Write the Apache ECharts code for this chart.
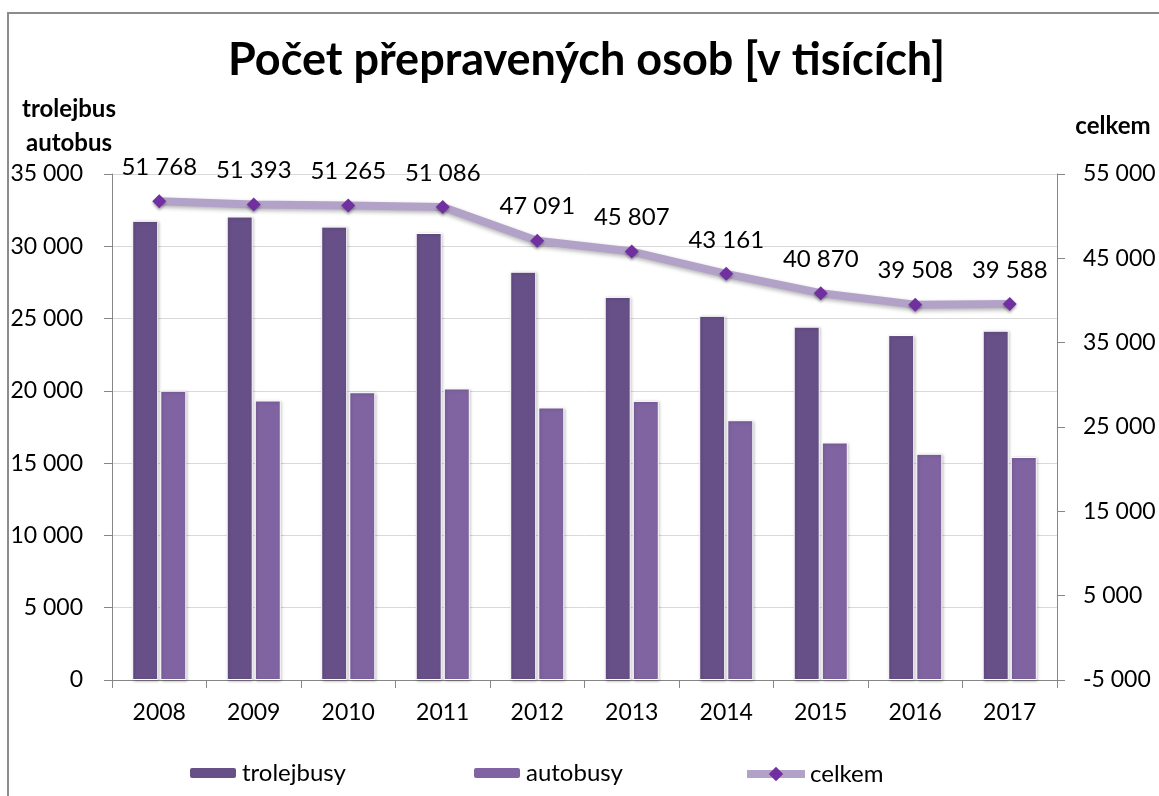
<!DOCTYPE html>
<html>
<head>
<meta charset="utf-8">
<script src="https://cdn.jsdelivr.net/npm/echarts@6/dist/echarts.min.js"></script>
<style>
html,body{margin:0;padding:0;width:1159px;height:796px;overflow:hidden;background:#fff;}
#frame{position:absolute;left:7px;top:12px;width:3000px;height:3000px;border:2px solid #8c8c8c;box-sizing:border-box;}
#chart{position:absolute;left:0;top:0;width:1159px;height:796px;}
</style>
</head>
<body>
<div id="frame"></div>
<div id="chart"></div>
<script>
const years = ['2008','2009','2010','2011','2012','2013','2014','2015','2016','2017'];
const trolejbusy = [31760, 32060, 31360, 30920, 28240, 26500, 25190, 24440, 23860, 24160];
const autobusy = [20008, 19333, 19905, 20166, 18851, 19307, 17971, 16430, 15648, 15428];
const celkem = [51768, 51393, 51265, 51086, 47091, 45807, 43161, 40870, 39508, 39588];
const rightTicks = [-5000, 5000, 15000, 25000, 35000, 45000, 55000];

const FONT = 'Lato';
function fmt(v){ return String(v).replace(/\B(?=(\d{3})+(?!\d))/g, ' '); }

const chart = echarts.init(document.getElementById('chart'), null, {renderer:'canvas'});
const legendText = {fontFamily: FONT, fontSize: 24, color: '#000'};
chart.setOption({
  animation: false,
  title: {
    text: 'Počet přepravených osob [v tisících]',
    left: 228, top: 38, padding: 0,
    textStyle: {fontFamily: FONT, fontWeight: 'bold', fontSize: 45, color: '#000'}
  },
  graphic: [
    {type:'text', x: 69, y: 109, style:{text:'trolejbus', font:'bold 24px Lato', fill:'#000', align:'center', verticalAlign:'middle'}},
    {type:'text', x: 69, y: 143, style:{text:'autobus', font:'bold 24px Lato', fill:'#000', align:'center', verticalAlign:'middle'}},
    {type:'text', x: 1113, y: 126, style:{text:'celkem', font:'bold 24px Lato', fill:'#000', align:'center', verticalAlign:'middle'}}
  ],
  legend: [
    {data:['trolejbusy'], left: 188, top: 761, padding: 0, itemWidth: 48, itemHeight: 12, textStyle: legendText},
    {data:['autobusy'], left: 472, top: 761, padding: 0, itemWidth: 48, itemHeight: 12, textStyle: legendText},
    {data:['celkem'], left: 743, top: 762, padding: 0, itemWidth: 58, itemHeight: 18, textStyle: legendText,
      lineStyle: {width: 8, color: '#b3a2c7', shadowBlur: 0}, itemStyle: {color: '#7030a0'}}
  ],
  grid: {left: 112, right: 102, top: 174, bottom: 116, containLabel: false},
  xAxis: {
    type: 'category', data: years, boundaryGap: true,
    axisLine: {lineStyle: {color: '#868686', width: 1}},
    axisTick: {show: true, length: 8, lineStyle: {color: '#868686'}},
    axisLabel: {fontFamily: FONT, fontSize: 23, color: '#000', margin: 21}
  },
  yAxis: [
    {
      type: 'value', min: 0, max: 35000, interval: 5000, position: 'left',
      axisLine: {show: true, lineStyle: {color: '#868686'}},
      axisTick: {show: true, length: 8, inside: false, lineStyle: {color: '#868686'}},
      axisLabel: {fontFamily: FONT, fontSize: 23, color: '#000', margin: 29, formatter: fmt},
      splitLine: {show: true, lineStyle: {color: '#d9d9d9', width: 1}}
    },
    {
      type: 'value', min: -5000, max: 55000, position: 'right',
      axisLine: {show: true, lineStyle: {color: '#868686'}},
      axisTick: {show: true, length: 8, lineStyle: {color: '#868686'}, customValues: rightTicks},
      axisLabel: {fontFamily: FONT, fontSize: 23, color: '#000', margin: 26, formatter: fmt, customValues: rightTicks},
      splitLine: {show: false}
    }
  ],
  series: [
    {
      name: 'trolejbusy', type: 'bar', data: trolejbusy, yAxisIndex: 0,
      barWidth: 26, barGap: '8%',
      itemStyle: {color: '#675088', borderColor: '#fff', borderWidth: 1,
        shadowBlur: 3, shadowColor: 'rgba(0,0,0,0.25)', shadowOffsetX: 1, shadowOffsetY: 1}
    },
    {
      name: 'autobusy', type: 'bar', data: autobusy, yAxisIndex: 0,
      barWidth: 26,
      itemStyle: {color: '#8064a2', borderColor: '#fff', borderWidth: 1,
        shadowBlur: 3, shadowColor: 'rgba(0,0,0,0.25)', shadowOffsetX: 1, shadowOffsetY: 1}
    },
    {
      name: 'celkem', type: 'line', data: celkem, yAxisIndex: 1,
      symbol: 'diamond', symbolSize: 14, z: 5,
      lineStyle: {color: '#b3a2c7', width: 8, shadowBlur: 4, shadowColor: 'rgba(0,0,0,0.3)', shadowOffsetY: 2},
      itemStyle: {color: '#7030a0', borderWidth: 0, shadowBlur: 3, shadowColor: 'rgba(0,0,0,0.35)', shadowOffsetY: 2},
      label: {show: true, position: 'top', distance: 15, fontFamily: FONT, fontSize: 24, color: '#000', formatter: p => fmt(p.value)}
    }
  ]
});
</script>
</body>
</html>
